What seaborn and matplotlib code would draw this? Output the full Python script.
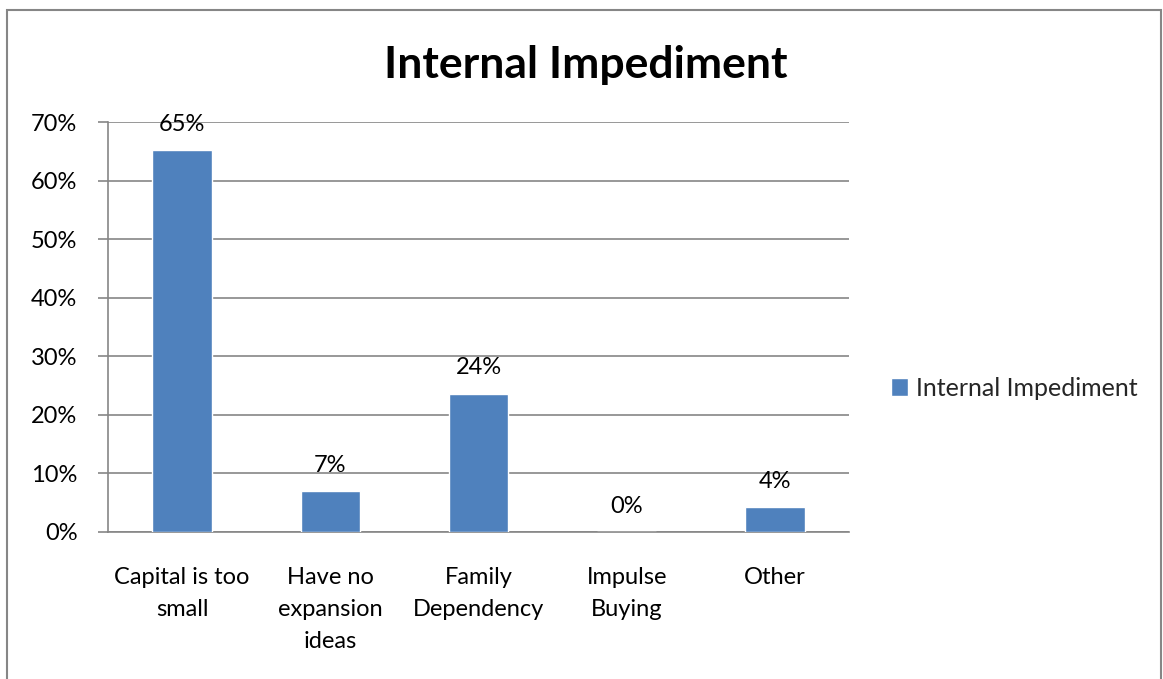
import matplotlib
matplotlib.use("Agg")
import matplotlib.pyplot as plt
from matplotlib.patches import Rectangle
from matplotlib.ticker import FixedLocator, PercentFormatter
import seaborn as sns
import pandas as pd

# Survey results: share of respondents citing each internal impediment
categories = ["Capital is too\nsmall", "Have no\nexpansion\nideas", "Family\nDependency",
              "Impulse\nBuying", "Other"]
shares = [0.652, 0.070, 0.236, 0.0, 0.042]
series_name = "Internal Impediment"
y_ticks = [0.0, 0.1, 0.2, 0.3, 0.4, 0.5, 0.6, 0.7]

df = pd.DataFrame({"category": categories, "share": shares})

sns.set_theme(style="white")
plt.rcParams["font.family"] = ["Lato", "DejaVu Sans"]

BAR = "#4F81BD"
GRID = "#868686"
FS = 17

fig = plt.figure(figsize=(11.63, 6.79), dpi=100)
ax = fig.add_axes([0.0929, 0.2165, 0.6371, 0.6038])

sns.barplot(data=df, x="category", y="share", color=BAR, width=0.4,
            saturation=1, label=series_name, ax=ax, zorder=3)

ax.set_ylim(0, 0.7)
ax.set_xlim(-0.5, len(categories) - 0.5)
ax.yaxis.set_major_locator(FixedLocator(y_ticks))
ax.yaxis.set_major_formatter(PercentFormatter(1.0, decimals=0))
ax.grid(axis="y", color=GRID, linewidth=1.2, zorder=0)
ax.set_axisbelow(True)
ax.set_xlabel("")
ax.set_ylabel("")

for side in ("top", "right"):
    ax.spines[side].set_visible(False)
for side in ("left", "bottom"):
    ax.spines[side].set_color(GRID)
    ax.spines[side].set_linewidth(1.2)

# category labels centred, tick marks on the category boundaries
ax.set_xticks(range(len(categories)))
ax.set_xticklabels(categories, fontsize=FS, linespacing=1.66, color="black")
ax.tick_params(axis="x", which="major", length=0, pad=25)
ax.set_xticks([i - 0.5 for i in range(len(categories) + 1)], minor=True)
ax.tick_params(axis="x", which="minor", length=7, color=GRID, width=1.2, direction="out")
ax.tick_params(axis="y", length=7, color=GRID, width=1.2, direction="out",
               labelsize=FS, labelcolor="black", pad=15, left=True)

# value labels above each bar
for i, v in enumerate(shares):
    ax.annotate(f"{v:.0%}", (i, v), xytext=(0, 11), textcoords="offset points",
                ha="center", va="bottom", fontsize=FS, color="black")

fig.text(0.504, 0.905, series_name, ha="center", va="center",
         fontsize=32, fontweight="bold", color="black")

ax.legend(loc="center left", bbox_to_anchor=(0.766, 0.428),
          bbox_transform=fig.transFigure, frameon=False, fontsize=18,
          handlelength=0.7, handleheight=0.7, handletextpad=0.3,
          borderaxespad=0, borderpad=0)

# chart frame
fig.patches.append(Rectangle((0.006, -0.02), 0.992, 1.005, transform=fig.transFigure,
                             fill=False, edgecolor=GRID, linewidth=1.5))

fig.savefig("out.png", dpi=100)
